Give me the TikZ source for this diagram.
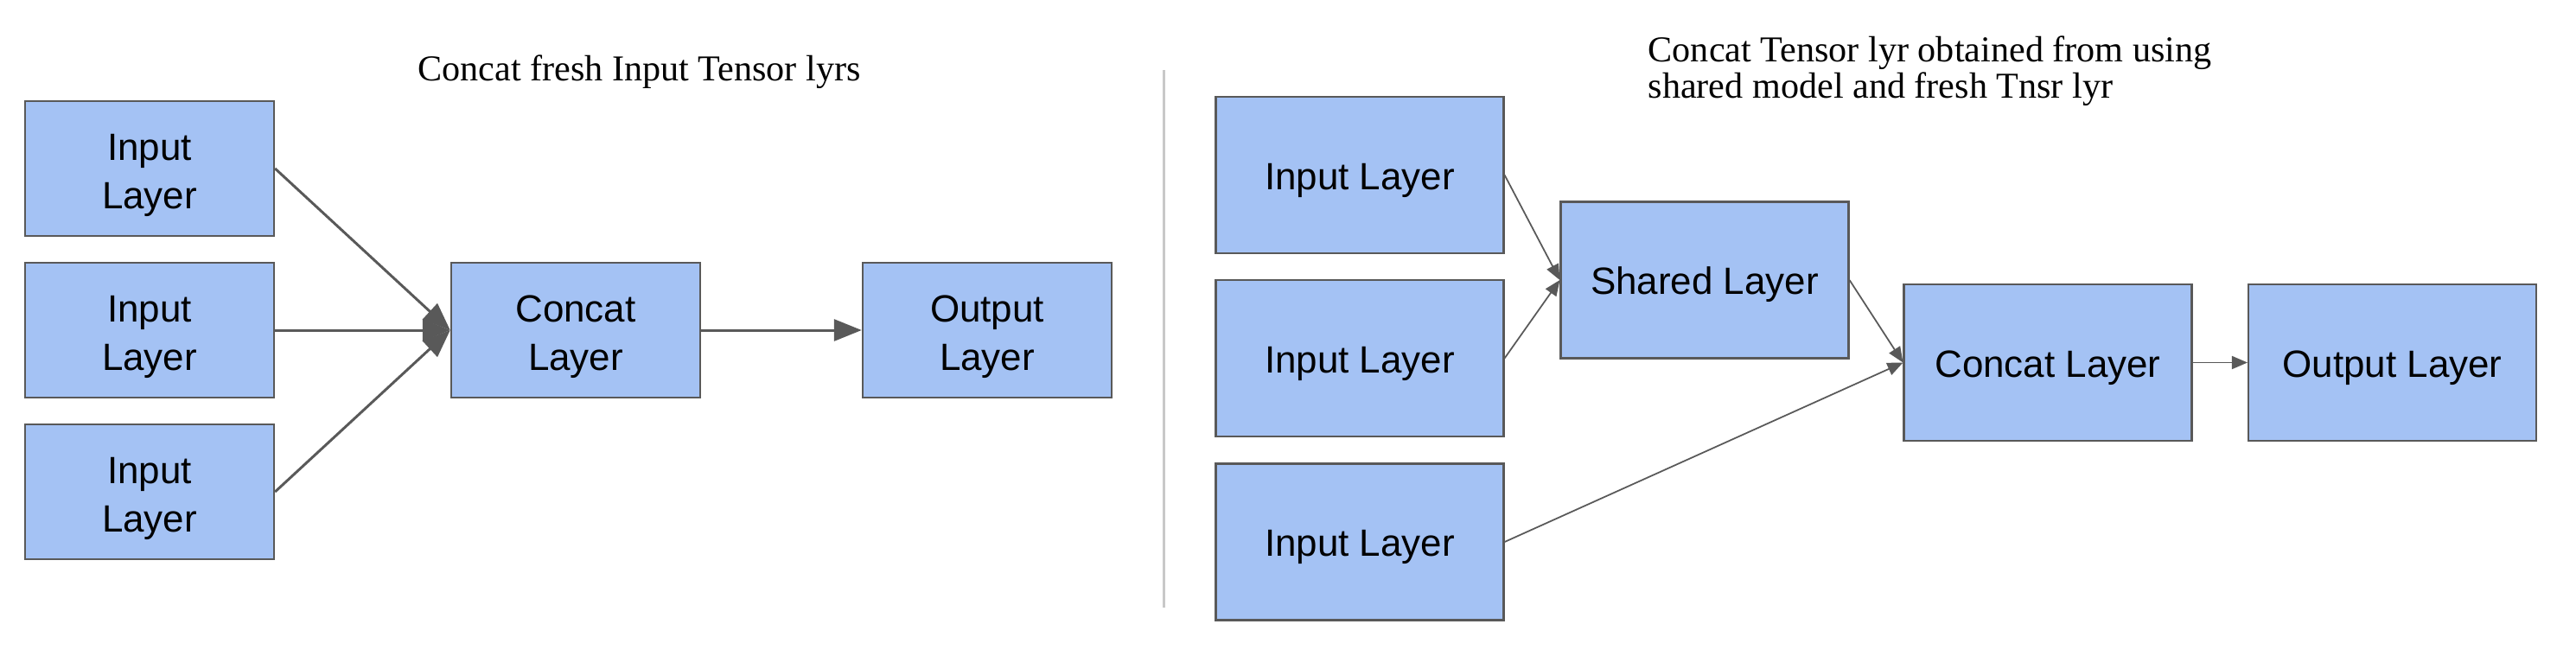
\documentclass[tikz,border=0pt]{standalone}
\usepackage{fontspec}
\setmainfont{Liberation Sans}
\newfontfamily\titlefont{Liberation Serif}
\usetikzlibrary{arrows.meta}
\definecolor{layerblue}{HTML}{A4C2F4}
\definecolor{edgegray}{HTML}{595959}
\definecolor{splitgray}{HTML}{C8C8C8}
\newcommand{\stacked}[2]{\rule{0pt}{13.3pt}#1\\#2}

\begin{document}
\begin{tikzpicture}[>={Triangle[length=3.2mm, width=2.5mm]},
	every node/.style={font=\fontsize{12.5}{16}\selectfont},
	layerbox/.style={draw=edgegray, fill=layerblue, line width=0.7pt, minimum width=2.88cm, minimum height=1.56cm, align=center, inner sep=0pt},
	widebox/.style={layerbox, line width=0.6pt, minimum width=3.33cm, minimum height=1.81cm, execute at begin node={\rule{0pt}{12.2pt}}},
	boldflow/.style={->, draw=edgegray, line width=0.85pt},
	thinflow/.style={-{Triangle[length=1.8mm, width=1.5mm]}, draw=edgegray, line width=0.5pt},
	caption/.style={font=\titlefont\fontsize{12}{10}\selectfont, inner sep=0pt}]
	\useasboundingbox (0,0) rectangle (29.8,7.58);
	\begin{scope}
		\node[caption, anchor=base] (lefttitle) at (7.395,6.65) {Concat fresh Input Tensor lyrs};
		\node[layerbox] (in1) at (1.73,5.63) {\stacked{Input}{Layer}};
		\node[layerbox] (in2) at (1.73,3.76) {\stacked{Input}{Layer}};
		\node[layerbox] (in3) at (1.73,1.89) {\stacked{Input}{Layer}};
		\node[layerbox] (cat) at (6.66,3.76) {\stacked{Concat}{Layer}};
		\node[layerbox] (out) at (11.42,3.76) {\stacked{Output}{Layer}};
		\draw[boldflow] (in1.east) -- (cat.west);
		\draw[boldflow] (in2.east) -- (cat.west);
		\draw[boldflow] (in3.east) -- (cat.west);
		\draw[boldflow] (cat.east) -- (out.west);
	\end{scope}
	\draw[splitgray, line width=0.85pt] (13.465,6.77) -- (13.465,0.55);
	\begin{scope}
		\node[caption, anchor=north west, align=left] (righttitle) at (19.06,7.17) {Concat Tensor lyr obtained from using\\shared model and fresh Tnsr lyr};
		\node[widebox] (inA) at (15.73,5.555) {Input Layer};
		\node[widebox] (inB) at (15.73,3.435) {Input Layer};
		\node[widebox] (inC) at (15.73,1.31) {Input Layer};
		\node[widebox] (shr) at (19.72,4.34) {Shared Layer};
		\node[widebox] (cat2) at (23.69,3.385) {Concat Layer};
		\node[widebox] (out2) at (27.675,3.385) {Output Layer};
		\draw[thinflow] (inA.east) -- (shr.west);
		\draw[thinflow] (inB.east) -- (shr.west);
		\draw[thinflow] (shr.east) -- (cat2.west);
		\draw[thinflow] (inC.east) -- (cat2.west);
		\draw[thinflow] (cat2.east) -- (out2.west);
	\end{scope}
\end{tikzpicture}
\end{document}
